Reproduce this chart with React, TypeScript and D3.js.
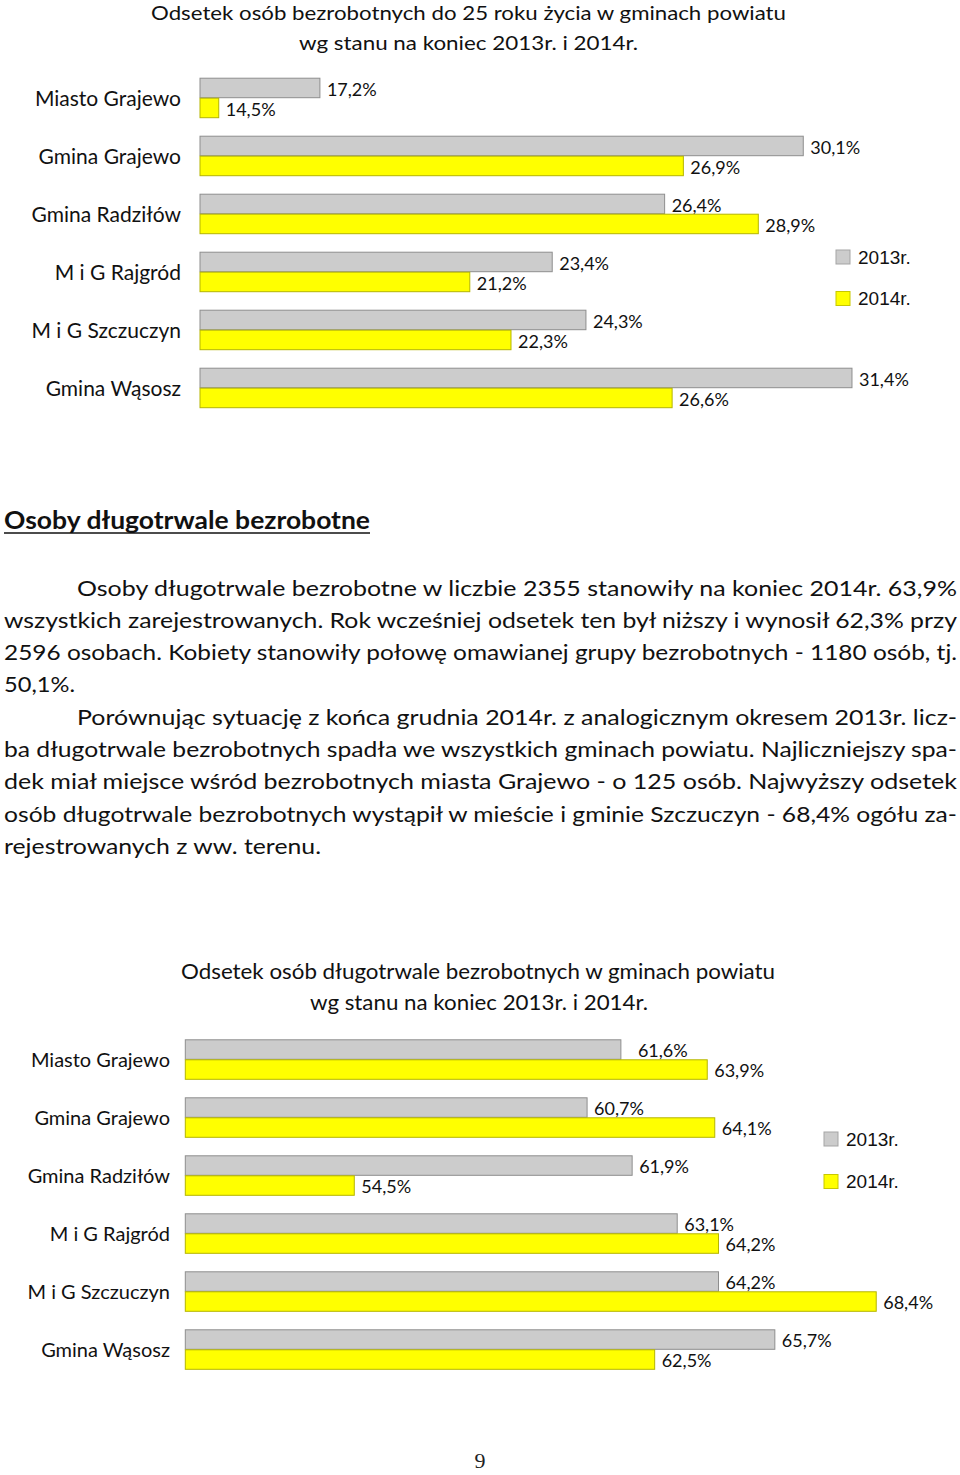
import React from "react";
import * as d3 from "d3";

// ---- DATA ----
const categories = [
  "Miasto Grajewo",
  "Gmina Grajewo",
  "Gmina Radziłów",
  "M i G Rajgród",
  "M i G Szczuczyn",
  "Gmina Wąsosz",
];
const seriesNames = ["2013r.", "2014r."];
const youth2013 = [17.2, 30.1, 26.4, 23.4, 24.3, 31.4];
const youth2014 = [14.5, 26.9, 28.9, 21.2, 22.3, 26.6];
const longterm2013 = [61.6, 60.7, 61.9, 63.1, 64.2, 65.7];
const longterm2014 = [63.9, 64.1, 54.5, 64.2, 68.4, 62.5];

const youthTitle = [
  "Odsetek osób bezrobotnych do 25 roku życia w gminach powiatu",
  "wg stanu na koniec 2013r. i 2014r.",
];
const longtermTitle = [
  "Odsetek osób długotrwale bezrobotnych w gminach powiatu",
  "wg stanu na koniec 2013r. i 2014r.",
];
const heading = "Osoby długotrwale bezrobotne";
const paragraphLines = [
  "Osoby długotrwale bezrobotne w liczbie 2355 stanowiły na koniec 2014r. 63,9%",
  "wszystkich zarejestrowanych. Rok wcześniej odsetek ten był niższy i wynosił 62,3% przy",
  "2596 osobach. Kobiety stanowiły połowę omawianej grupy bezrobotnych - 1180 osób, tj.",
  "50,1%.",
  "Porównując sytuację z końca grudnia 2014r. z analogicznym okresem 2013r. licz-",
  "ba długotrwale bezrobotnych spadła we wszystkich gminach powiatu. Najliczniejszy spa-",
  "dek miał miejsce wśród bezrobotnych miasta Grajewo - o 125 osób. Najwyższy odsetek",
  "osób długotrwale bezrobotnych wystąpił w mieście i gminie Szczuczyn - 68,4% ogółu za-",
  "rejestrowanych z ww. terenu.",
];
const pageNumber = "9";

// ---- STYLE ----
const FONT = "Lato, 'Open Sans', sans-serif";
const COLORS = {
  grayFill: "#CCCCCC",
  grayStroke: "#8E8E8E",
  yellowFill: "#FFFF00",
  yellowStroke: "#B5B500",
};
const fillFor = [COLORS.grayFill, COLORS.yellowFill];
const strokeFor = [COLORS.grayStroke, COLORS.yellowStroke];

const fmt = (v: number) => d3.format(".1f")(v).replace(".", ",") + "%";

type ChartProps = {
  title: string[];
  titleX: number[];
  titleW: number[];
  titleY: number[];
  titleSize: number;
  s2013: number[];
  s2014: number[];
  domain: [number, number];
  x0: number;
  pxPerUnit: number;
  firstBarTop: number;
  labelRight: number;
  catFont: number;
  legendX: number;
  legendY: number[];
  labelNudge?: Record<string, number>;
};

function BarChart(p: ChartProps) {
  const x = d3
    .scaleLinear()
    .domain(p.domain)
    .range([p.x0, p.x0 + (p.domain[1] - p.domain[0]) * p.pxPerUnit]);
  const step = 58;
  const y = d3
    .scaleBand<string>()
    .domain(categories)
    .range([p.firstBarTop - 9, p.firstBarTop - 9 + step * categories.length])
    .paddingInner(18 / 58)
    .paddingOuter(9 / 58);
  const inner = d3
    .scaleBand<string>()
    .domain(seriesNames)
    .range([0, y.bandwidth()]);
  const series = [p.s2013, p.s2014];

  return (
    <g>
      {p.title.map((t, i) => (
        <text
          key={i}
          x={p.titleX[i]}
          y={p.titleY[i]}
          fontSize={p.titleSize}
          fill="#111"
          textLength={p.titleW[i]}
          lengthAdjust="spacingAndGlyphs"
        >
          {t}
        </text>
      ))}
      {categories.map((c, ci) => (
        <g key={c}>
          <text
            x={p.labelRight}
            y={(y(c) as number) + y.bandwidth() / 2}
            textAnchor="end"
            dominantBaseline="central"
            fontSize={p.catFont}
            fill="#111"
          >
            {c}
          </text>
          {seriesNames.map((s, si) => {
            const v = series[si][ci];
            const top = (y(c) as number) + (inner(s) as number);
            const w = x(v) - x(p.domain[0]);
            const nudge = (p.labelNudge && p.labelNudge[`${ci}-${si}`]) || 0;
            return (
              <g key={s}>
                <rect
                  x={x(p.domain[0])}
                  y={top + 0.5}
                  width={w}
                  height={inner.bandwidth() - 0.5}
                  fill={fillFor[si]}
                  stroke={strokeFor[si]}
                  strokeWidth={1}
                />
                <text
                  x={x(v) + 7 + nudge}
                  y={top + inner.bandwidth() / 2 + 1}
                  dominantBaseline="central"
                  fontSize={18}
                  fill="#111"
                >
                  {fmt(v)}
                </text>
              </g>
            );
          })}
        </g>
      ))}
      {seriesNames.map((s, si) => (
        <g key={s}>
          <rect
            x={p.legendX}
            y={p.legendY[si] - 7}
            width={14}
            height={14}
            fill={fillFor[si]}
            stroke={si === 0 ? "#A5A5A5" : "#C8C800"}
            strokeWidth={1}
          />
          <text
            x={p.legendX + 22}
            y={p.legendY[si]}
            dominantBaseline="central"
            fontSize={19}
            fontFamily="'Liberation Sans', Arial, sans-serif"
            fill="#111"
          >
            {s}
          </text>
        </g>
      ))}
    </g>
  );
}

export default function App() {
  const justified = [true, true, true, false, true, true, true, true, false];
  const indent = [true, false, false, false, true, false, false, false, false];
  const naturalW: Record<number, number> = { 3: 71, 8: 317 };
  return (
    <svg
      width={960}
      height={1475}
      style={{ position: "absolute", left: 0, top: 0, background: "#fff" }}
      fontFamily={FONT}
    >
      <rect x={0} y={0} width={960} height={1475} fill="#fff" />
      <BarChart
        title={youthTitle}
        titleX={[151, 299]}
        titleW={[635, 339]}
        titleY={[20, 49.5]}
        titleSize={20}
        s2013={youth2013}
        s2014={youth2014}
        domain={[14, 32]}
        x0={200}
        pxPerUnit={37.47}
        firstBarTop={77.7}
        labelRight={181}
        catFont={21}
        legendX={836}
        legendY={[257, 298.5]}
      />

      <text x={4} y={529} fontSize={24} fontWeight="bold" fill="#111" textLength={366} lengthAdjust="spacingAndGlyphs">
        {heading}
      </text>
      <line x1={4} x2={370} y1={533} y2={533} stroke="#111" strokeWidth={1.5} />

      {paragraphLines.map((t, i) => {
        const x0 = indent[i] ? 77 : 4;
        const w = justified[i] ? 957 - x0 : naturalW[i];
        return (
          <text
            key={i}
            x={x0}
            y={595.5 + i * 32.3}
            fontSize={22}
            fill="#111"
            textLength={w}
            lengthAdjust="spacingAndGlyphs"
          >
            {t}
          </text>
        );
      })}

      <BarChart
        title={longtermTitle}
        titleX={[181, 310]}
        titleW={[594, 338]}
        titleY={[979, 1010]}
        titleSize={21}
        s2013={longterm2013}
        s2014={longterm2014}
        domain={[50, 70]}
        x0={185.3}
        pxPerUnit={37.55}
        firstBarTop={1039.3}
        labelRight={170}
        catFont={20}
        legendX={824}
        legendY={[1139, 1181.5]}
        labelNudge={{ "0-0": 10 }}
      />

      <text x={480} y={1468} textAnchor="middle" fontSize={22} fontFamily="'Liberation Serif', serif" fill="#222">
        {pageNumber}
      </text>
    </svg>
  );
}
